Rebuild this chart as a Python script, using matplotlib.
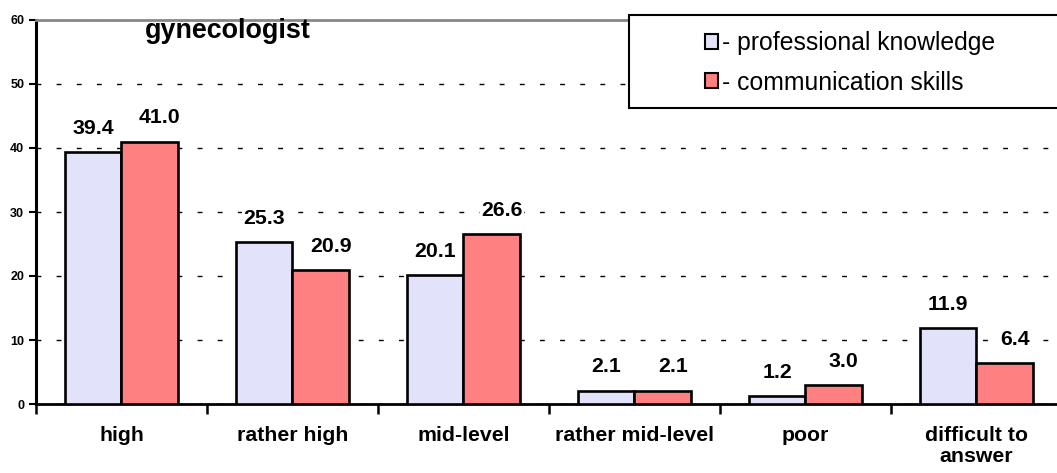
import numpy as np
import matplotlib.pyplot as plt
from matplotlib.patches import Rectangle, Patch

plt.rcParams['font.family'] = ['Liberation Sans', 'DejaVu Sans']

categories = ['high', 'rather high', 'mid-level', 'rather mid-level', 'poor', 'difficult to\nanswer']
knowledge = [39.4, 25.3, 20.1, 2.1, 1.2, 11.9]
communication = [41.0, 20.9, 26.6, 2.1, 3.0, 6.4]
series_names = ['- professional knowledge', '- communication skills']
title = 'gynecologist'

blue = '#E2E2FA'
red = '#FF8080'

fig = plt.figure(figsize=(10.57, 4.73), dpi=100)
ax = fig.add_axes([36 / 1057, 1 - 404 / 473, 1026 / 1057, 384 / 473])

x = np.arange(len(categories))
w = 0.333
b1 = ax.bar(x - w / 2, knowledge, w, color=blue, edgecolor='black', linewidth=1.9, zorder=3)
b2 = ax.bar(x + w / 2, communication, w, color=red, edgecolor='black', linewidth=1.9, zorder=3)

# value labels
for xi, v in zip(x, knowledge):
    ax.annotate('%.1f' % v, (xi - w / 2, v), xytext=(0, 17), textcoords='offset points',
                ha='center', va='center', fontsize=15.3, fontweight='bold', zorder=4,
                bbox=dict(facecolor='white', edgecolor='none', pad=1))
for xi, v in zip(x, communication):
    ax.annotate('%.1f' % v, (xi + w / 2, v), xytext=(7, 17), textcoords='offset points',
                ha='center', va='center', fontsize=15.3, fontweight='bold', zorder=4,
                bbox=dict(facecolor='white', edgecolor='none', pad=1))

ax.set_xlim(-0.5, len(categories) - 0.5)
ax.set_ylim(0, 60)
ax.set_yticks(range(0, 61, 10))
for t in ax.get_yticklabels():
    t.set_fontweight('bold')
ax.tick_params(axis='y', direction='out', length=5, width=1.5, labelsize=9, pad=3.5)

ax.set_xticks(x)
ax.set_xticklabels(categories, fontsize=15.3, fontweight='bold', linespacing=1.1)
ax.set_xticks(np.arange(-0.5, len(categories)), minor=True)
ax.tick_params(axis='x', which='major', length=0, pad=16)
ax.tick_params(axis='x', which='minor', direction='out', length=7, width=1.8)

ax.yaxis.grid(True, color='black', linestyle=(0, (3.5, 11)), linewidth=1, zorder=0)
ax.set_axisbelow(True)

ax.spines['left'].set_linewidth(2.2)
ax.spines['bottom'].set_linewidth(2)
ax.spines['top'].set_color('#888888')
ax.spines['top'].set_linewidth(2)
ax.spines['right'].set_visible(False)

fig.text(145 / 1057, 1 - 31 / 473, title, fontsize=19.4, fontweight='bold', ha='left', va='center')

# legend box
fig.patches.append(Rectangle((629 / 1057, 1 - 108 / 473), 0.45, 93 / 473, transform=fig.transFigure,
                             facecolor='white', edgecolor='black', linewidth=1.5, zorder=5))
handles = [Patch(facecolor=blue, edgecolor='black', linewidth=1.5),
           Patch(facecolor=red, edgecolor='black', linewidth=1.5)]
leg = fig.legend(handles, series_names, loc='center', bbox_to_anchor=(850 / 1057, 1 - 63 / 473),
                 frameon=False, fontsize=17.8, handlelength=0.55, handleheight=0.55,
                 handletextpad=0.15, labelspacing=0.62)
leg.set_zorder(6)

fig.savefig('out.png', dpi=100)
